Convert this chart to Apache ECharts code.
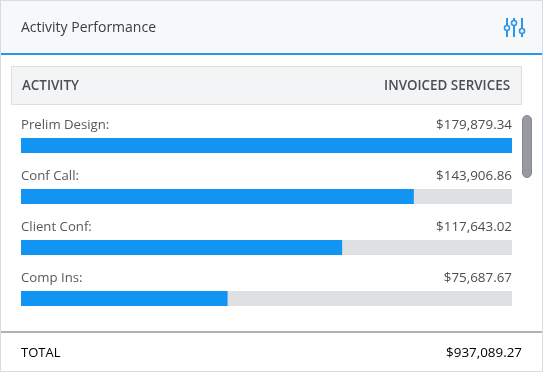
<!DOCTYPE html>
<html><head><meta charset="utf-8">
<style>html,body{margin:0;padding:0;background:#fff}#c{width:543px;height:372px}</style>
<script src="https://cdn.jsdelivr.net/npm/echarts@6/dist/echarts.min.js"></script>
</head><body><div id="c"></div>
<script>
const title = 'Activity Performance';
const columnHeaders = ['ACTIVITY', 'INVOICED SERVICES'];
const categories = ['Prelim Design', 'Conf Call', 'Client Conf', 'Comp Ins'];
const invoiced = [179879.34, 143906.86, 117643.02, 75687.67];
const totalLabel = 'TOTAL';
const totalValue = 937089.27;
const FONT = '"Open Sans"';
const money = v => '$' + v.toLocaleString('en-US', {minimumFractionDigits: 2, maximumFractionDigits: 2});
const axisMax = Math.max(...invoiced);
const chart = echarts.init(document.getElementById('c'), null, {renderer: 'canvas'});
const txt = (x, y, text, fill, size, align, weight) => ({type: 'text', x, y, silent: true, style: {text, fill, font: (weight || 'normal') + ' ' + size + 'px ' + FONT, align: align || 'left', verticalAlign: 'middle'}});
const rect = (x, y, w, h, fill, extra) => Object.assign({type: 'rect', silent: true, shape: {x, y, width: w, height: h}, style: {fill}}, extra || {});
const slider = (x, top, bottom, knobY) => [
  {type: 'line', silent: true, shape: {x1: x, y1: top, x2: x, y2: bottom}, style: {stroke: '#2e96e8', lineWidth: 2}},
  {type: 'circle', silent: true, shape: {cx: x, cy: knobY, r: 2.5}, style: {fill: '#f7f8f9', stroke: '#2e96e8', lineWidth: 1.6}}
];
chart.setOption({
  animation: false,
  backgroundColor: '#ffffff',
  grid: {left: 21, top: 120, width: 491, height: 204, containLabel: false},
  xAxis: {type: 'value', min: 0, max: axisMax, show: false},
  yAxis: {type: 'category', inverse: true, data: categories, show: false},
  series: [
    {type: 'bar', data: invoiced, barWidth: 15, z: 3,
     itemStyle: {color: '#1294f2'},
     showBackground: true, backgroundStyle: {color: '#dfe0e1'},
     label: {show: true, position: [0, -13], align: 'left', verticalAlign: 'middle', formatter: p => p.name + ':', color: '#58595b', fontFamily: FONT, fontSize: 13.2}},
    {type: 'bar', data: invoiced.map(() => axisMax), barWidth: 15, barGap: '-100%', z: 4,
     itemStyle: {color: 'transparent'},
     label: {show: true, position: [491, -13], align: 'right', verticalAlign: 'middle',
       formatter: p => money(invoiced[p.dataIndex]), color: '#4c4d4f', fontFamily: FONT, fontSize: 13.4}}
  ],
  graphic: {elements: [
    rect(0, 0, 543, 53, '#f7f8f9', {z: -1}),
    rect(1, 53, 541, 2, '#2e96e8'),
    rect(0, 0, 543, 1, '#d5dde8'),
    rect(0, 0, 1, 372, '#d5dde8'),
    rect(542, 0, 1, 372, '#d5dde8'),
    rect(0, 371, 543, 1, '#d5dde8'),
    txt(21, 28, title, '#3c3d3f', 14),
    ...slider(507, 18, 37, 28),
    ...slider(514, 18, 37, 23),
    ...slider(522, 18, 37, 31),
    {type: 'rect', silent: true, shape: {x: 11.5, y: 66.5, width: 510, height: 38}, style: {fill: '#f3f4f6', stroke: '#dfe0d8', lineWidth: 1}},
    txt(22, 86, columnHeaders[0], '#4c4d4f', 13.4, 'left', '600'),
    txt(510, 86, columnHeaders[1], '#4c4d4f', 13.4, 'right', '600'),
    {type: 'rect', silent: true, shape: {x: 522.5, y: 115.5, width: 9, height: 62, r: 4.5}, style: {fill: '#999a9c', stroke: '#7f8a99', lineWidth: 1}},
    rect(1, 331, 541, 2, '#b2b2b2'),
    txt(21, 353, totalLabel, '#000000', 13),
    txt(522, 353, money(totalValue), '#000000', 13.4, 'right')
  ]}
});
</script></body></html>
